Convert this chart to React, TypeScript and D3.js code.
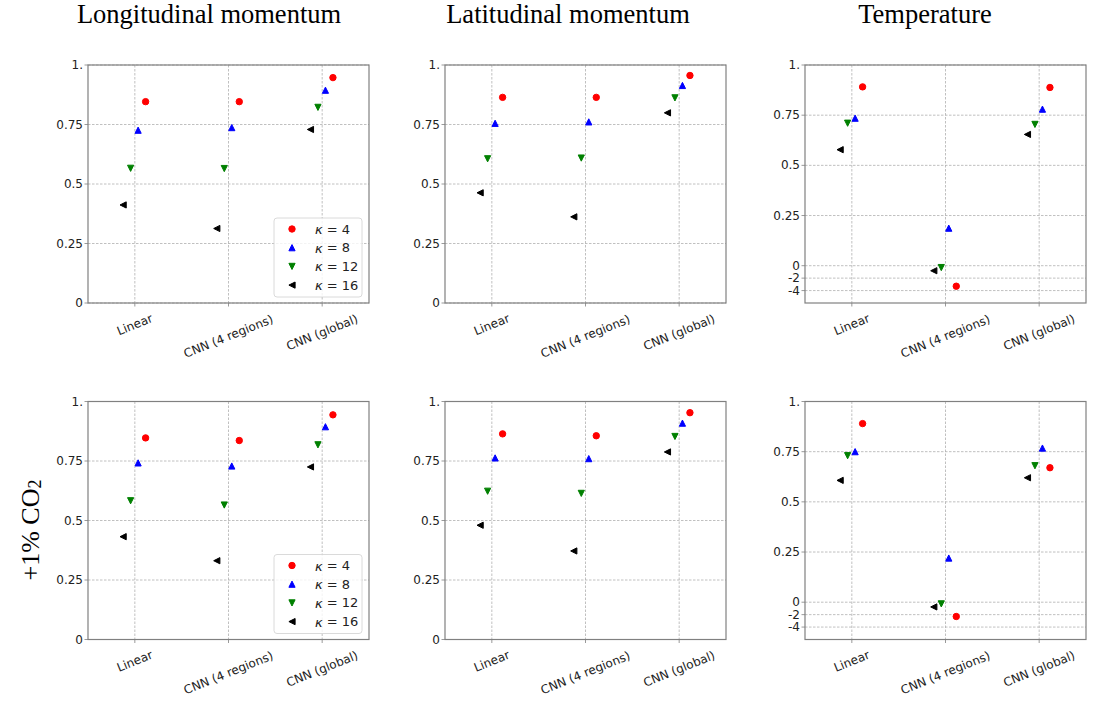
import React from "react";
import * as d3 from "d3";

// ---------- data ----------
const categories = ["Linear", "CNN (4 regions)", "CNN (global)"];
const kappas = [4, 8, 12, 16];
const colTitles = ["Longitudinal momentum", "Latitudinal momentum", "Temperature"];
const rowLabel = "+1% CO";

// each panel: rows = kappa (4, 8, 12, 16), cols = categories
const lonTop = [
  [0.846, 0.846, 0.947],
  [0.726, 0.737, 0.894],
  [0.566, 0.565, 0.822],
  [0.412, 0.313, 0.729],
];
const latTop = [
  [0.864, 0.864, 0.956],
  [0.755, 0.761, 0.914],
  [0.606, 0.609, 0.862],
  [0.463, 0.362, 0.799],
];
const tempTop = [
  [0.891, -3.3, 0.888],
  [0.735, 0.187, 0.78],
  [0.71, -0.3, 0.704],
  [0.578, -0.81, 0.654],
];
const lonBot = [
  [0.847, 0.836, 0.944],
  [0.742, 0.729, 0.894],
  [0.583, 0.565, 0.818],
  [0.432, 0.331, 0.725],
];
const latBot = [
  [0.864, 0.856, 0.953],
  [0.763, 0.76, 0.909],
  [0.623, 0.614, 0.853],
  [0.48, 0.372, 0.788],
];
const tempBot = [
  [0.89, -2.3, 0.67],
  [0.75, 0.22, 0.768],
  [0.73, -0.27, 0.68],
  [0.607, -0.76, 0.62],
];

const stdTicks = [0, 0.25, 0.5, 0.75, 1];
const stdTickLabels = ["0", "0.25", "0.5", "0.75", "1."];
const tempTicks = [-4, -2, 0, 0.25, 0.5, 0.75, 1];
const tempTickLabels = ["-4", "-2", "0", "0.25", "0.5", "0.75", "1."];

// ---------- style ----------
const colors = ["#ff0000", "#0000ff", "#008000", "#000000"];
const offsets = [0.115, 0.035, -0.045, -0.125];
const colLefts = [88, 445, 805];
const rowTops = [65, 401.5];
const PW = 281;
const PH = 238;
const titleX = [209, 568, 925];
const SANS = "DejaVu Sans, sans-serif";
const SERIF = "Liberation Serif, Times New Roman, serif";

function Marker({ kind, x, y, color }: { kind: number; x: number; y: number; color: string }) {
  const r = 3.1;
  if (kind === 0) return <circle cx={x} cy={y} r={3.2} fill={color} stroke={color} strokeWidth={1} />;
  let d = "";
  if (kind === 1) d = `M${x},${y - r}L${x - r},${y + r}L${x + r},${y + r}Z`;
  if (kind === 2) d = `M${x},${y + r}L${x - r},${y - r}L${x + r},${y - r}Z`;
  if (kind === 3) d = `M${x - r},${y}L${x + r},${y - r}L${x + r},${y + r}Z`;
  return <path d={d} fill={color} stroke={color} strokeWidth={1} strokeLinejoin="miter" />;
}

function Panel({ left, top, data, temp, legend }: { left: number; top: number; data: number[][]; temp: boolean; legend: boolean }) {
  const x = d3.scaleLinear().domain([-0.5, 2.5]).range([left, left + PW]);
  const y = temp
    ? d3.scaleLinear().domain([-6, 0, 1]).range([top + PH, top + PH - 37.3, top])
    : d3.scaleLinear().domain([0, 1]).range([top + PH, top]);
  const ticks = temp ? tempTicks : stdTicks;
  const tickLabels = temp ? tempTickLabels : stdTickLabels;
  const bottom = top + PH;
  return (
    <g>
      {/* grid */}
      {ticks.map((t, i) => (
        <line key={"gy" + i} x1={left} x2={left + PW} y1={y(t)} y2={y(t)} stroke="#b0b0b0" strokeWidth={0.8} strokeDasharray="2.5,1.5" />
      ))}
      {categories.map((c, i) => (
        <line key={"gx" + i} x1={x(i)} x2={x(i)} y1={top} y2={bottom} stroke="#b0b0b0" strokeWidth={0.8} strokeDasharray="2.5,1.5" />
      ))}
      {/* frame */}
      <rect x={left} y={top} width={PW} height={PH} fill="none" stroke="#808080" strokeWidth={1.2} />
      {/* y ticks */}
      {ticks.map((t, i) => (
        <g key={"yt" + i}>
          <line x1={left - 3.5} x2={left} y1={y(t)} y2={y(t)} stroke="#808080" strokeWidth={0.8} />
          <text x={left - 5} y={y(t)} textAnchor="end" dominantBaseline="central" fontFamily={SANS} fontSize={12} fill="#222">
            {tickLabels[i]}
          </text>
        </g>
      ))}
      {/* x ticks */}
      {categories.map((c, i) => {
        const w = c.length * 6.9;
        const h = 13;
        const ang = (22 * Math.PI) / 180;
        const bh = w * Math.sin(ang) + h * Math.cos(ang);
        const cy = bottom + 8 + bh / 2;
        return (
          <g key={"xt" + i}>
            <line x1={x(i)} x2={x(i)} y1={bottom} y2={bottom + 3.5} stroke="#808080" strokeWidth={0.8} />
            <text
              x={x(i)}
              y={cy}
              textAnchor="middle"
              dominantBaseline="central"
              fontFamily={SANS}
              fontSize={12}
              fill="#222"
              transform={`rotate(-22 ${x(i)} ${cy})`}
            >
              {c}
            </text>
          </g>
        );
      })}
      {/* markers */}
      {data.map((series, k) =>
        series.map((v, i) => <Marker key={k + "-" + i} kind={k} x={x(i + offsets[k])} y={y(v)} color={colors[k]} />)
      )}
      {legend && (
        <g>
          <rect x={left + PW - 95} y={bottom - 85} width={88} height={79} rx={3} fill="white" fillOpacity={0.8} stroke="#d0d0d0" strokeWidth={0.8} />
          {kappas.map((kv, k) => {
            const ly = bottom - 74 + k * 18.7;
            return (
              <g key={"lg" + k}>
                <Marker kind={k} x={left + PW - 77} y={ly} color={colors[k]} />
                <text x={left + PW - 54} y={ly} dominantBaseline="central" fontFamily={SANS} fontSize={13} fill="#222">
                  <tspan fontStyle="italic">κ</tspan>
                  {" = " + kv}
                </text>
              </g>
            );
          })}
        </g>
      )}
    </g>
  );
}

export default function App() {
  const panels = [
    [lonTop, latTop, tempTop],
    [lonBot, latBot, tempBot],
  ];
  return (
    <div style={{ position: "absolute", left: 0, top: 0 }}>
      <svg width={1100} height={702} style={{ display: "block", background: "white" }}>
        {colTitles.map((t, i) => (
          <text key={"t" + i} x={titleX[i]} y={23} textAnchor="middle" fontFamily={SERIF} fontSize={26.5} fill="#000">
            {t}
          </text>
        ))}
        <text
          x={30}
          y={530}
          textAnchor="middle"
          dominantBaseline="central"
          fontFamily={SERIF}
          fontSize={26}
          fill="#000"
          transform="rotate(-90 30 530)"
        >
          {rowLabel}
          <tspan fontSize={18} dy={5}>2</tspan>
        </text>
        {panels.map((row, r) =>
          row.map((data, c) => (
            <Panel key={r + "-" + c} left={colLefts[c]} top={rowTops[r]} data={data} temp={c === 2} legend={c === 0} />
          ))
        )}
      </svg>
    </div>
  );
}
